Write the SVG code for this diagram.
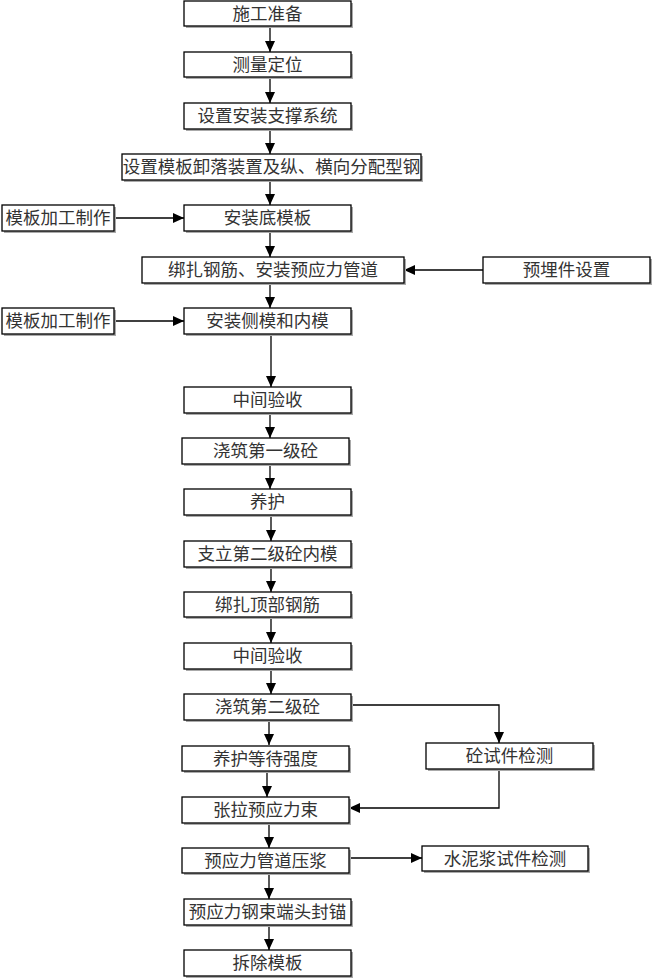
<svg xmlns="http://www.w3.org/2000/svg" width="653" height="980" viewBox="0 0 653 980">
<defs>
<style>
.n rect.b{fill:#fff;stroke:#000;stroke-width:1.3}
.n rect.s{fill:#aaa}
.n text{font-family:"Liberation Serif","Noto Sans CJK SC",serif;font-size:17.5px;fill:#333;text-anchor:middle;dominant-baseline:central}
#edges path{fill:none;stroke:#000;stroke-width:1.3}
</style>
<marker id="ah" markerUnits="userSpaceOnUse" markerWidth="12" markerHeight="10" refX="11" refY="5" orient="auto">
<path d="M0,0 L11,5 L0,10 z" fill="#000"/>
</marker>
</defs>
<rect width="653" height="980" fill="#fff"/>
<g id="edges">
<path d="M270,26 V52" marker-end="url(#ah)"/>
<path d="M270,77 V103" marker-end="url(#ah)"/>
<path d="M270,129 V154" marker-end="url(#ah)"/>
<path d="M270,180 V205" marker-end="url(#ah)"/>
<path d="M114,218 H184" marker-end="url(#ah)"/>
<path d="M270,231 V257" marker-end="url(#ah)"/>
<path d="M483,270 H404" marker-end="url(#ah)"/>
<path d="M270,283 V308" marker-end="url(#ah)"/>
<path d="M114,321 H184" marker-end="url(#ah)"/>
<path d="M271,334 V387" marker-end="url(#ah)"/>
<path d="M270,413 V438" marker-end="url(#ah)"/>
<path d="M270,464 V489" marker-end="url(#ah)"/>
<path d="M271,515 V541" marker-end="url(#ah)"/>
<path d="M271,567 V592" marker-end="url(#ah)"/>
<path d="M271,617 V643" marker-end="url(#ah)"/>
<path d="M271,669 V694" marker-end="url(#ah)"/>
<path d="M269,720 V745" marker-end="url(#ah)"/>
<path d="M351,705 H499 V743" marker-end="url(#ah)"/>
<path d="M267,771 V797" marker-end="url(#ah)"/>
<path d="M499,769 V808 H349" marker-end="url(#ah)"/>
<path d="M269,823 V848" marker-end="url(#ah)"/>
<path d="M349,858 H422" marker-end="url(#ah)"/>
<path d="M269,873 V899" marker-end="url(#ah)"/>
<path d="M269,925 V950" marker-end="url(#ah)"/>
</g>
<g id="n1" class="n"><rect class="s" x="186" y="3" width="167" height="25"/><rect class="b" x="184" y="1" width="167" height="25"/><text x="267.5" y="13.5">施工准备</text></g>
<g id="n2" class="n"><rect class="s" x="186" y="54" width="167" height="25"/><rect class="b" x="184" y="52" width="167" height="25"/><text x="267.5" y="64.5">测量定位</text></g>
<g id="n3" class="n"><rect class="s" x="186" y="105" width="167" height="26"/><rect class="b" x="184" y="103" width="167" height="26"/><text x="267.5" y="116">设置安装支撑系统</text></g>
<g id="n4" class="n"><rect class="s" x="124" y="156" width="299" height="26"/><rect class="b" x="122" y="154" width="299" height="26"/><text x="271.5" y="167">设置模板卸落装置及纵、横向分配型钢</text></g>
<g id="n5" class="n"><rect class="s" x="186" y="207" width="167" height="26"/><rect class="b" x="184" y="205" width="167" height="26"/><text x="267.5" y="218">安装底模板</text></g>
<g id="n5a" class="n"><rect class="s" x="4" y="207" width="112" height="26"/><rect class="b" x="2" y="205" width="112" height="26"/><text x="58" y="218">模板加工制作</text></g>
<g id="n6" class="n"><rect class="s" x="144" y="259" width="262" height="26"/><rect class="b" x="142" y="257" width="262" height="26"/><text x="273" y="270">绑扎钢筋、安装预应力管道</text></g>
<g id="n6a" class="n"><rect class="s" x="485" y="259" width="167" height="26"/><rect class="b" x="483" y="257" width="167" height="26"/><text x="566.5" y="270">预埋件设置</text></g>
<g id="n7" class="n"><rect class="s" x="186" y="310" width="167" height="26"/><rect class="b" x="184" y="308" width="167" height="26"/><text x="267.5" y="321">安装侧模和内模</text></g>
<g id="n7a" class="n"><rect class="s" x="4" y="310" width="112" height="26"/><rect class="b" x="2" y="308" width="112" height="26"/><text x="58" y="321">模板加工制作</text></g>
<g id="n8" class="n"><rect class="s" x="186" y="389" width="167" height="26"/><rect class="b" x="184" y="387" width="167" height="26"/><text x="267.5" y="400">中间验收</text></g>
<g id="n9" class="n"><rect class="s" x="184" y="440" width="167" height="26"/><rect class="b" x="182" y="438" width="167" height="26"/><text x="265.5" y="451">浇筑第一级砼</text></g>
<g id="n10" class="n"><rect class="s" x="186" y="491" width="167" height="26"/><rect class="b" x="184" y="489" width="167" height="26"/><text x="267.5" y="502">养护</text></g>
<g id="n11" class="n"><rect class="s" x="186" y="543" width="167" height="26"/><rect class="b" x="184" y="541" width="167" height="26"/><text x="267.5" y="554">支立第二级砼内模</text></g>
<g id="n12" class="n"><rect class="s" x="186" y="594" width="167" height="25"/><rect class="b" x="184" y="592" width="167" height="25"/><text x="267.5" y="604.5">绑扎顶部钢筋</text></g>
<g id="n13" class="n"><rect class="s" x="186" y="645" width="167" height="26"/><rect class="b" x="184" y="643" width="167" height="26"/><text x="267.5" y="656">中间验收</text></g>
<g id="n14" class="n"><rect class="s" x="186" y="696" width="167" height="26"/><rect class="b" x="184" y="694" width="167" height="26"/><text x="267.5" y="707">浇筑第二级砼</text></g>
<g id="n15" class="n"><rect class="s" x="184" y="748" width="167" height="25"/><rect class="b" x="182" y="746" width="167" height="25"/><text x="265.5" y="758.5">养护等待强度</text></g>
<g id="n15a" class="n"><rect class="s" x="428" y="745" width="167" height="26"/><rect class="b" x="426" y="743" width="167" height="26"/><text x="509.5" y="756">砼试件检测</text></g>
<g id="n16" class="n"><rect class="s" x="184" y="799" width="167" height="26"/><rect class="b" x="182" y="797" width="167" height="26"/><text x="265.5" y="810">张拉预应力束</text></g>
<g id="n17" class="n"><rect class="s" x="184" y="850" width="167" height="25"/><rect class="b" x="182" y="848" width="167" height="25"/><text x="265.5" y="860.5">预应力管道压浆</text></g>
<g id="n17a" class="n"><rect class="s" x="424" y="848" width="166" height="25"/><rect class="b" x="422" y="846" width="166" height="25"/><text x="505" y="858.5">水泥浆试件检测</text></g>
<g id="n18" class="n"><rect class="s" x="186" y="901" width="167" height="26"/><rect class="b" x="184" y="899" width="167" height="26"/><text x="267.5" y="912">预应力钢束端头封锚</text></g>
<g id="n19" class="n"><rect class="s" x="186" y="952" width="167" height="26"/><rect class="b" x="184" y="950" width="167" height="26"/><text x="267.5" y="963">拆除模板</text></g>
</svg>
